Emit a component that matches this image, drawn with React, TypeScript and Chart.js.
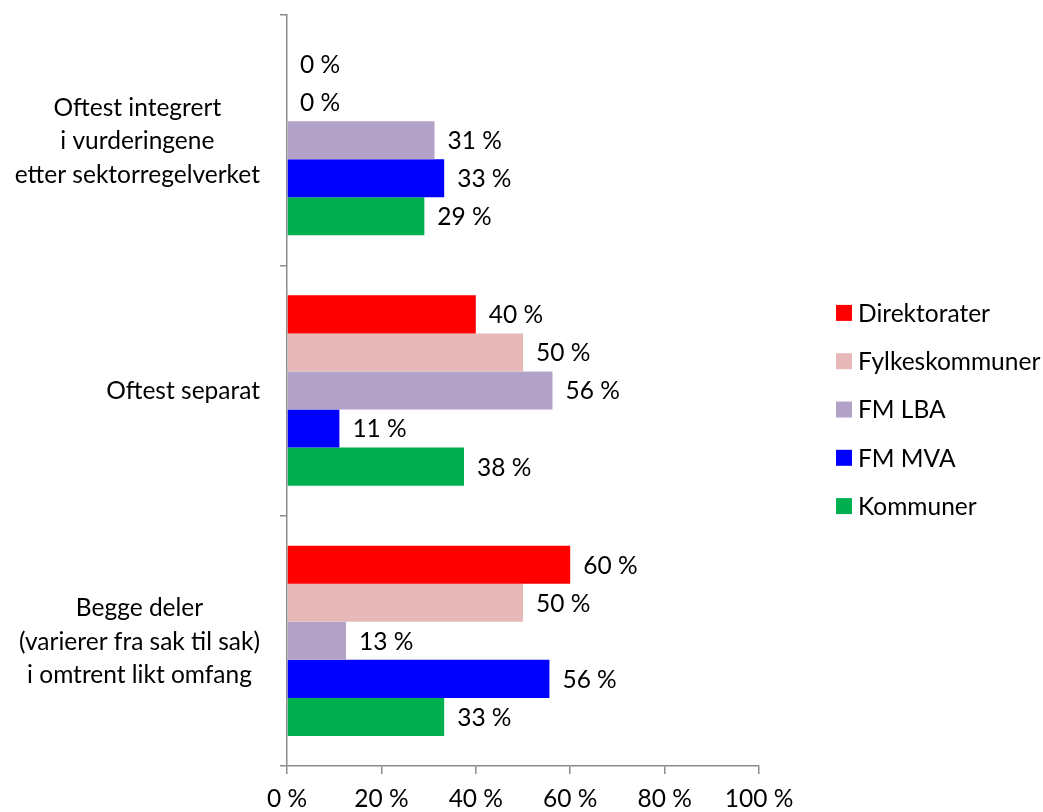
import React, { useEffect, useRef } from "react";
import { Chart, registerables } from "chart.js";

Chart.register(...registerables);

const categories: string[][] = [
  ["Oftest integrert", "i vurderingene", "etter sektorregelverket"],
  ["Oftest separat"],
  ["Begge deler", "(varierer fra sak til sak)", "i omtrent likt omfang"],
];
const seriesNames = ["Direktorater", "Fylkeskommuner", "FM LBA", "FM MVA", "Kommuner"];
const direktorater = [0, 40, 60];
const fylkeskommuner = [0, 50, 50];
const fmLba = [31.25, 56.25, 12.5];
const fmMva = [33.3, 11.1, 55.6];
const kommuner = [29.1, 37.5, 33.3];
const seriesColors = ["#FF0000", "#E6B9B8", "#B3A2C7", "#0000FF", "#00B050"];
const xTicks = [0, 20, 40, 60, 80, 100];

const FONT = "Lato, Calibri, 'DejaVu Sans', sans-serif";
const FS = 24.5;

const labelsPlugin = {
  id: "customLabels",
  afterDraw(chart: any) {
    const ctx = chart.ctx;
    ctx.save();
    ctx.font = `${FS}px ${FONT}`;
    ctx.fillStyle = "#000";
    // bar value labels
    chart.data.datasets.forEach((ds: any, di: number) => {
      const meta = chart.getDatasetMeta(di);
      meta.data.forEach((bar: any, i: number) => {
        ctx.textAlign = "left";
        ctx.textBaseline = "middle";
        ctx.fillText(`${Math.round(ds.data[i])} %`, bar.x + 13, bar.y + 1);
      });
    });
    // category labels: each block right-aligned, lines centered within block
    const yScale = chart.scales.y;
    const lineH = 33.5;
    categories.forEach((lines, i) => {
      const cy = yScale.getPixelForTick(i);
      const w = Math.max(...lines.map((l) => ctx.measureText(l).width));
      const cx = 260 - w / 2;
      const y0 = cy - ((lines.length - 1) / 2) * lineH;
      ctx.textAlign = "center";
      ctx.textBaseline = "middle";
      lines.forEach((l, k) => ctx.fillText(l, cx, y0 + k * lineH + 1));
    });
    // legend
    const lx = 836;
    const spacing = 48.3;
    const cyL = 409.5;
    seriesNames.forEach((name, k) => {
      const y = cyL + (k - (seriesNames.length - 1) / 2) * spacing;
      ctx.fillStyle = chart.data.datasets[k].backgroundColor;
      ctx.fillRect(lx, y - 8, 16, 16);
      ctx.fillStyle = "#000";
      ctx.textAlign = "left";
      ctx.textBaseline = "middle";
      ctx.fillText(name, lx + 22, y + 1);
    });
    ctx.restore();
  },
};

export default function App() {
  const ref = useRef<HTMLCanvasElement | null>(null);
  useEffect(() => {
    if (!ref.current) return;
    const values = [direktorater, fylkeskommuner, fmLba, fmMva, kommuner];
    const chart = new Chart(ref.current, {
      type: "bar",
      data: {
        labels: categories.map((c) => c.join(" ")),
        datasets: seriesNames.map((name, k) => ({
          label: name,
          data: values[k],
          backgroundColor: seriesColors[k],
          borderWidth: 0,
          barPercentage: 1,
          categoryPercentage: 0.76,
        })),
      },
      options: {
        indexAxis: "y",
        animation: false,
        responsive: true,
        maintainAspectRatio: false,
        layout: { padding: { left: 0, right: 284, top: 15, bottom: 0 } },
        plugins: { legend: { display: false }, tooltip: { enabled: false } },
        scales: {
          x: {
            min: 0,
            max: 100,
            afterBuildTicks: (scale: any) => {
              scale.ticks = xTicks.map((v) => ({ value: v }));
            },
            afterFit: (scale: any) => {
              scale.height = 46;
            },
            ticks: {
              callback: (v: any) => `${v} %`,
              color: "#000",
              font: { family: FONT, size: FS },
              padding: 10,
              maxRotation: 0,
            },
            grid: {
              drawOnChartArea: false,
              drawTicks: true,
              tickLength: 8,
              color: "#8c8c8c",
              lineWidth: 1.5,
            },
            border: { color: "#8c8c8c", width: 1.5 },
          },
          y: {
            afterFit: (scale: any) => {
              scale.width = 287;
            },
            ticks: { display: false },
            grid: {
              offset: true,
              drawOnChartArea: false,
              drawTicks: true,
              tickLength: 7,
              color: "#8c8c8c",
              lineWidth: 1.5,
            },
            border: { color: "#8c8c8c", width: 1.5 },
          },
        },
      },
      plugins: [labelsPlugin],
    });
    return () => chart.destroy();
  }, []);
  return (
    <div style={{ position: "absolute", left: 0, top: 0, width: 1043, height: 812, background: "#fff" }}>
      <canvas ref={ref} />
    </div>
  );
}
